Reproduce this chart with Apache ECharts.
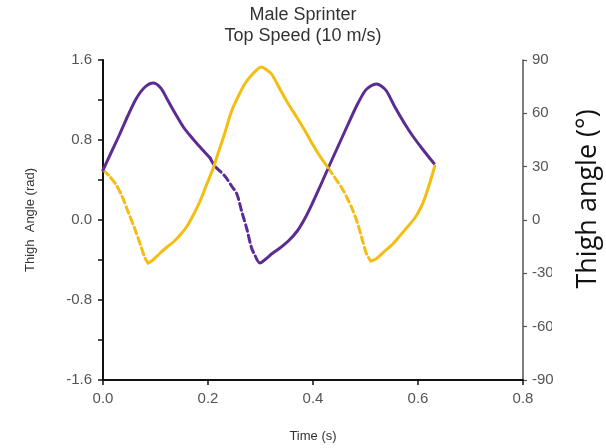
<!DOCTYPE html>
<html>
<head>
<meta charset="utf-8">
<script src="https://cdn.jsdelivr.net/npm/echarts@6/dist/echarts.min.js"></script>
<style>
html,body{margin:0;padding:0;background:#fff;}
#chart{width:606px;height:448px;}
</style>
</head>
<body>
<div id="chart"></div>
<script>
// ---- Data (time in s, thigh angle in rad) ----
const purpleSwing1 = [[0,0.50],[0.016,0.68],[0.032,0.86],[0.048,1.05],[0.064,1.22],[0.08,1.33],[0.096,1.37],[0.11,1.32],[0.121,1.22],[0.137,1.07],[0.153,0.93],[0.165,0.85],[0.178,0.77],[0.19,0.70],[0.204,0.62]];
const purpleStance1 = [[0.204,0.62],[0.213,0.54],[0.232,0.44],[0.245,0.34],[0.255,0.26],[0.264,0.09],[0.274,-0.09],[0.283,-0.28],[0.29,-0.36]];
const purpleSwing2 = [[0.29,-0.36],[0.299,-0.43],[0.31,-0.39],[0.321,-0.34],[0.337,-0.28],[0.353,-0.21],[0.37,-0.11],[0.385,0.02],[0.40,0.18],[0.413,0.33],[0.429,0.52],[0.448,0.74],[0.467,0.96],[0.483,1.14],[0.499,1.29],[0.51,1.34],[0.521,1.36],[0.53,1.34],[0.54,1.29],[0.556,1.13],[0.575,0.96],[0.59,0.84],[0.607,0.72],[0.622,0.62]];
const purpleStance2 = [[0.622,0.62],[0.633,0.55]];

const goldStance1 = [[0,0.50],[0.012,0.44],[0.024,0.36],[0.036,0.24],[0.048,0.08],[0.06,-0.08],[0.072,-0.26],[0.08,-0.38],[0.086,-0.43]];
const goldSwing1 = [[0.086,-0.43],[0.095,-0.40],[0.109,-0.33],[0.122,-0.27],[0.134,-0.22],[0.147,-0.15],[0.159,-0.07],[0.172,0.05],[0.185,0.19],[0.197,0.35],[0.21,0.52],[0.22,0.68],[0.232,0.87],[0.245,1.09],[0.258,1.24],[0.27,1.36],[0.285,1.46],[0.302,1.53],[0.312,1.50],[0.321,1.46],[0.337,1.31],[0.353,1.16],[0.37,1.02],[0.385,0.89],[0.40,0.75],[0.413,0.64],[0.429,0.52]];
const goldStance2 = [[0.429,0.52],[0.442,0.42],[0.455,0.32],[0.465,0.22],[0.474,0.12],[0.484,-0.02],[0.493,-0.18],[0.502,-0.34],[0.51,-0.41]];
const goldSwing2 = [[0.51,-0.41],[0.52,-0.39],[0.537,-0.31],[0.55,-0.25],[0.562,-0.18],[0.578,-0.08],[0.594,0.02],[0.605,0.12],[0.613,0.22],[0.623,0.38],[0.632,0.54]];

const xTicks = [0, 0.8, 0.2];      // min, max, interval (s)
const radTicks = [-1.6, 1.6, 0.4]; // min, max, interval (rad)
const degTicks = [-90, 90, 30];    // min, max, interval (deg)

const titleText = 'Male Sprinter\nTop Speed (10 m/s)';
const leftName = 'Thigh  Angle (rad)';
const rightName = 'Thigh angle (\u00B0)';
const xName = 'Time (s)';

const PURPLE = '#5b2c92';
const GOLD = '#f3bd12';
const FONT = '"Liberation Sans", Arial, sans-serif';

function seg(name, data, color, dashed) {
  return {
    name: name, type: 'line', data: data, showSymbol: false, smooth: 0.3,
    xAxisIndex: 0, yAxisIndex: 0, z: dashed ? 3 : 4,
    lineStyle: { color: color, width: 3, type: dashed ? [7, 4] : 'solid', cap: 'round', join: 'round' },
    emphasis: { disabled: true }
  };
}

const chart = echarts.init(document.getElementById('chart'), null, { renderer: 'canvas' });
chart.setOption({
  animation: false,
  backgroundColor: '#fff',
  title: {
    text: titleText, left: 'center', top: 0,
    textStyle: { fontFamily: FONT, fontSize: 18, fontWeight: 'normal', color: '#333', lineHeight: 21 }
  },
  grid: { left: 103, right: 83, top: 60, bottom: 68, containLabel: false },
  xAxis: {
    type: 'value', min: xTicks[0], max: xTicks[1], interval: xTicks[2],
    name: xName, nameLocation: 'middle', nameGap: 50,
    nameTextStyle: { fontFamily: FONT, fontSize: 13, color: '#333' },
    axisLine: { show: true, onZero: false, lineStyle: { color: '#111', width: 2 } },
    axisTick: { show: true, length: 5, lineStyle: { color: '#111', width: 1.5 } },
    axisLabel: { fontFamily: FONT, fontSize: 15, color: '#555', margin: 11, formatter: v => v.toFixed(1) },
    splitLine: { show: false }
  },
  yAxis: [{
    type: 'value', position: 'left', min: radTicks[0], max: radTicks[1], interval: radTicks[2],
    name: leftName, nameLocation: 'middle', nameGap: 66, nameRotate: 90,
    nameTextStyle: { fontFamily: FONT, fontSize: 13, color: '#333' },
    axisLine: { show: true, onZero: false, lineStyle: { color: '#111', width: 2 } },
    axisTick: { show: true, length: 5, lineStyle: { color: '#111', width: 1.5 } },
    axisLabel: {
      fontFamily: FONT, fontSize: 15, color: '#555', margin: 11,
      formatter: v => (Math.abs(Math.round(v * 10) % 8) === 0 ? v.toFixed(1) : '')
    },
    splitLine: { show: false }
  }, {
    type: 'value', position: 'right', min: degTicks[0], max: degTicks[1], interval: degTicks[2],
    axisLine: { show: true, onZero: false, lineStyle: { color: '#555', width: 1.5 } },
    axisTick: { show: true, length: 4, lineStyle: { color: '#555', width: 1.2 } },
    axisLabel: { fontFamily: FONT, fontSize: 15, color: '#555', margin: 9 },
    splitLine: { show: false }
  }],
  graphic: [
    { type: 'rect', left: 552, top: 240, shape: { width: 22, height: 100 }, style: { fill: '#fff' }, z: 100 },
    { type: 'text', x: 588, y: 199, rotation: Math.PI / 2, z: 101,
      style: { text: rightName, font: '27px "Open Sans", sans-serif', fill: '#111', textAlign: 'center', textVerticalAlign: 'middle' } }
  ],
  series: [
    seg('purple-swing-1', purpleSwing1, PURPLE, false),
    seg('purple-stance-1', purpleStance1, PURPLE, true),
    seg('purple-swing-2', purpleSwing2, PURPLE, false),
    seg('purple-stance-2', purpleStance2, PURPLE, true),
    seg('gold-stance-1', goldStance1, GOLD, true),
    seg('gold-swing-1', goldSwing1, GOLD, false),
    seg('gold-stance-2', goldStance2, GOLD, true),
    seg('gold-swing-2', goldSwing2, GOLD, false)
  ]
});
</script>
</body>
</html>
